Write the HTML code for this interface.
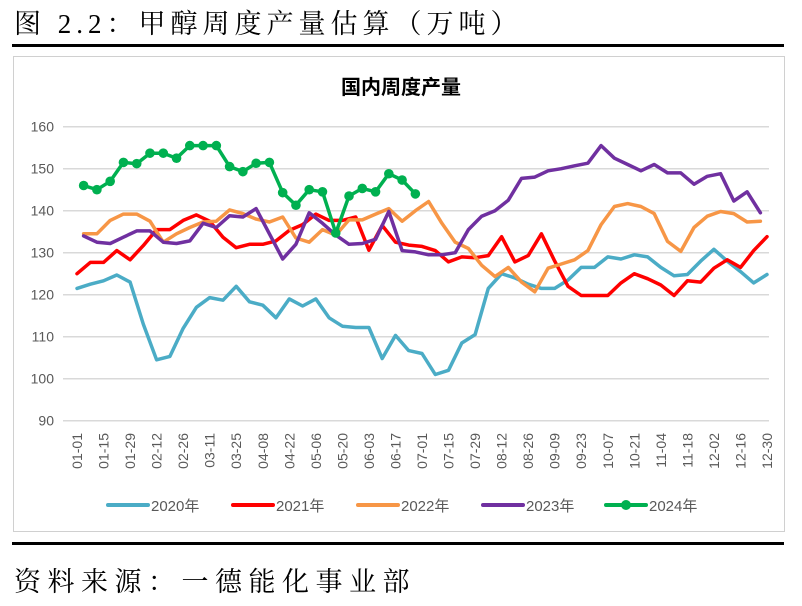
<!DOCTYPE html>
<html><head><meta charset="utf-8"><style>
body{margin:0;width:802px;height:606px;background:#fff;overflow:hidden;position:relative;font-family:"Liberation Sans","Noto Sans CJK SC",sans-serif}
.hdr{position:absolute;left:14px;top:2px;font-family:"Liberation Serif","Noto Serif CJK SC",serif;font-size:27px;letter-spacing:5px;color:#000;white-space:nowrap}
.rule{position:absolute;left:12px;width:772px;height:3px;background:#000}
.box{position:absolute;left:13px;top:56px;width:772px;height:476px;border:1px solid #d0d0d0;box-sizing:border-box}
</style></head><body>
<div class="hdr">图 2.2：甲醇周度产量估算（万吨）</div>
<div class="rule" style="top:44px"></div>
<div class="box"></div>
<div class="rule" style="top:542px"></div>
<div class="hdr" style="top:560px;letter-spacing:6.5px">资料来源：一德能化事业部</div>
<svg id="chart" width="802" height="606" style="position:absolute;left:0;top:0"></svg>
<script>
const xLabels=["01-01","01-15","01-29","02-12","02-26","03-11","03-25","04-08","04-22","05-06","05-20","06-03","06-17","07-01","07-15","07-29","08-12","08-26","09-09","09-23","10-07","10-21","11-04","11-18","12-02","12-16","12-30"];
const yTicks=[90,100,110,120,130,140,150,160];
const seriesNames=["2020年","2021年","2022年","2023年","2024年"];
const s2020=[121.5,122.5,123.3,124.7,123,113,104.5,105.3,112,117,119.3,118.7,122,118.3,117.5,114.5,119,117.3,119,114.5,112.5,112.2,112.2,104.8,110.3,106.7,106,101,102,108.5,110.5,121.5,125,124,122.5,121.5,121.5,123.5,126.5,126.5,129,128.5,129.5,129,126.5,124.5,124.8,128,130.8,128,125.5,122.8,124.8];
const s2021=[125,127.7,127.7,130.5,128.3,131.7,135.5,135.5,137.7,139,137.5,133.7,131.2,132,132,132.8,135.3,136.7,139.2,137.7,137.7,138.5,130.6,136.5,132.5,131.8,131.5,130.5,127.8,129,128.8,129.3,133.8,127.8,129.3,134.5,128,122,119.8,119.8,119.8,122.8,125,123.8,122.3,119.8,123.3,123,126.3,128.3,126.5,130.5,133.8];
const s2022=[134.5,134.5,137.7,139.2,139.2,137.5,132.5,134.5,136,137.3,137.5,140.2,139.3,138,137.3,138.5,133.5,132.5,135.5,134.2,137.8,137.8,139.2,140.5,137.5,140,142.2,137,132.5,131,127,124.3,126.5,123,120.7,126.3,127.3,128.3,130.5,136.7,141,141.7,141,139.3,132.7,130.3,136,138.7,139.8,139.3,137.3,137.5];
const s2023=[134,132.5,132.2,133.7,135.2,135.2,132.5,132.2,132.8,137,136,138.8,138.5,140.5,134.5,128.5,132,139.5,137,134.2,132,132.2,133.2,139.8,130.5,130.2,129.5,129.5,130,135.5,138.7,140,142.5,147.7,148,149.5,150,150.7,151.3,155.5,152.5,151,149.5,151,149,149,146.3,148.2,148.8,142.3,144.5,139.5];
const s2024=[146,145,147,151.5,151.2,153.7,153.7,152.5,155.5,155.5,155.5,150.5,149.3,151.3,151.5,144.3,141.3,145,144.5,134.7,143.5,145.3,144.5,148.8,147.3,144];
const seriesOffset=[0,0,0.5,0.5,0.5];
const colors=["#4bacc6","#ff0000","#f79646","#7030a0","#00b050"];
const allSeries=[s2020,s2021,s2022,s2023,s2024];
const NS="http://www.w3.org/2000/svg";
const svg=document.getElementById("chart");
const X0=77,X1=767,NW=52,Y160=126.7,PXU=4.2;
function xs(i){return X0+(X1-X0)/NW*i;}
function ys(v){return Y160+(160-v)*PXU;}
function mk(t,a){const e=document.createElementNS(NS,t);for(const k in a)e.setAttribute(k,a[k]);svg.appendChild(e);return e;}
const title=mk("text",{x:401,y:94,"text-anchor":"middle","font-size":"20","font-weight":"bold",fill:"#000"});
title.textContent="国内周度产量";


yTicks.forEach(v=>{
 const g=mk("line",{x1:63,x2:769,y1:ys(v),y2:ys(v),stroke:"#d9d9d9","stroke-width":"1.5"});
 
 
 const t=mk("text",{x:54,y:ys(v)+5,"text-anchor":"end","font-size":"14",fill:"#595959"});
 t.textContent=v;
 
 
});
xLabels.forEach((l,k)=>{
 const x=xs(2*k);
 const t=mk("text",{x:0,y:0,transform:`translate(${x+5},433) rotate(-90)`,"text-anchor":"end","font-size":"14",fill:"#595959"});
 t.textContent=l;
 
 
});
allSeries.forEach((s,si)=>{
 const pts=s.map((v,i)=>xs(i+seriesOffset[si]).toFixed(1)+","+ys(v).toFixed(1)).join(" ");
 const p=mk("polyline",{points:pts,fill:"none",stroke:colors[si],"stroke-width":"3.5","stroke-linejoin":"round","stroke-linecap":"round"});
 
 
 if(si===4){s.forEach((v,i)=>{
  const c=mk("circle",{cx:xs(i+seriesOffset[si]),cy:ys(v),r:4.8,fill:colors[si]});
  
  
 });}
});
const legX=[108,233,358,483,606];
seriesNames.forEach((n,i)=>{
 const l=mk("line",{x1:legX[i],x2:legX[i]+40,y1:505,y2:505,stroke:colors[i],"stroke-width":"4","stroke-linecap":"round"});
 
 
 if(i===4){const c=mk("circle",{cx:legX[i]+20,cy:505,r:5,fill:colors[i]});
  
  }
 const t=mk("text",{x:legX[i]+43,y:511,"font-size":"15",fill:"#595959"});
 t.textContent=n;
 
 
});
</script>
</body></html>
